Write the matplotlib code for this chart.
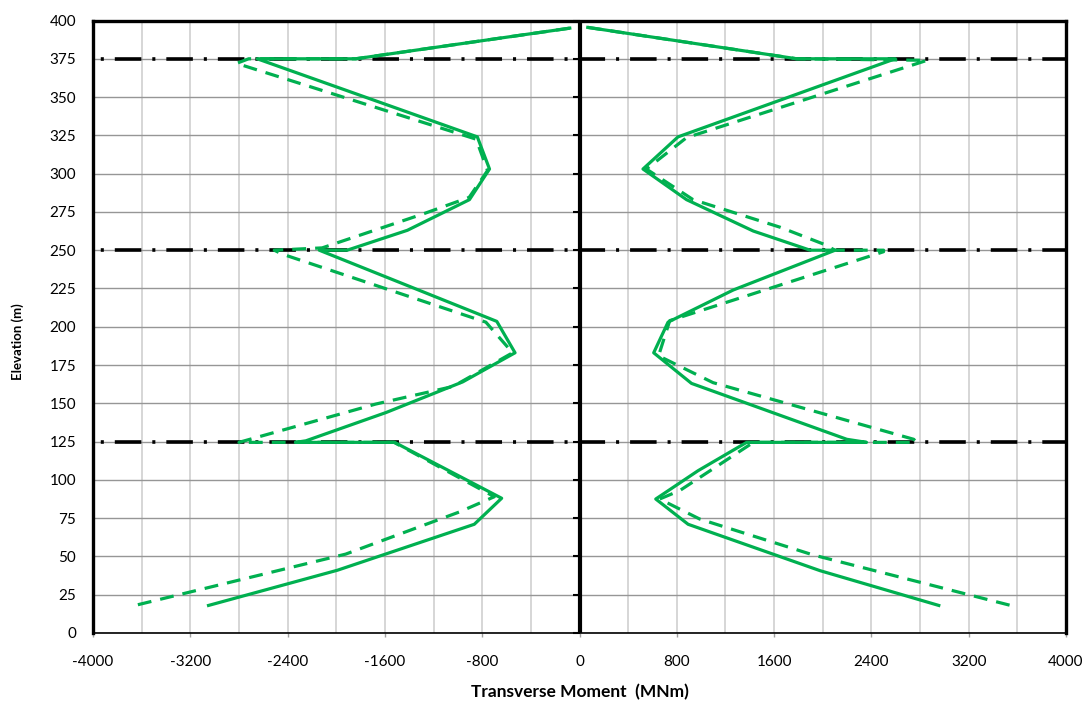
import numpy as np
import matplotlib
matplotlib.use('Agg')
from matplotlib import pyplot as plt
from matplotlib.ticker import MultipleLocator

# floor levels (black dash-dot lines)
levels = [375, 250, 125]

# left side, solid
elev_ls = [395, 375, 375, 324, 303, 283, 263, 250, 250, 203.5, 183, 164, 144, 125.5, 124.5, 124.5, 88, 71, 41, 18]
mom_ls = [-80, -1840, -2650, -840, -740, -905, -1415, -1910, -2140, -680, -530, -960, -1590, -2250, -2336, -1520, -640, -865, -1990, -3050]

# left side, dashed
elev_ld = [395, 375, 375, 372, 322.5, 302, 284.5, 273.5, 251.5, 250, 247.5, 203, 183, 161, 149.5, 124.5, 124.5, 89, 79, 51.5, 18]
mom_ld = [-80, -1840, -2720, -2820, -850, -756, -907, -1292, -2116, -2510, -2446, -770, -550, -1040, -1676, -2800, -1525, -700, -989, -1923, -3655]

# right side, solid
elev_rs = [395.5, 375, 375, 324, 303, 283, 262.5, 250, 250, 224, 203, 183, 163, 126.5, 124.5, 124.5, 106, 87.5, 71, 40.7, 18]
mom_rs = [68, 1786, 2596, 810, 522, 880, 1429, 1896, 2102, 1264, 728, 610, 921, 2198, 2360, 1374, 975, 627, 893, 1978, 2954]

# right side, dashed
elev_rd = [395.5, 375, 374, 323.5, 303, 283, 265, 254, 250, 250, 249, 204, 181, 163.5, 126.5, 124.5, 124.5, 93, 87.5, 82, 74.4, 51, 18]
mom_rd = [68, 1786, 2858, 880, 550, 934, 1649, 2006, 2100, 2500, 2500, 742, 650, 1098, 2748, 2770, 1430, 824, 659, 797, 989, 1920, 3545]

x_ticks = np.arange(-4000, 4001, 800)
y_ticks = np.arange(0, 401, 25)

green = '#00B050'
font = 'Lato'

plt.rcParams['font.family'] = [font, 'DejaVu Sans']
plt.rcParams['lines.scale_dashes'] = False

fig = plt.figure(figsize=(10.85, 7.04), dpi=100)
ax = fig.add_axes([93 / 1085, 71 / 704, 973 / 1085, 612.5 / 704])

ax.set_xlim(-4000, 4000)
ax.set_ylim(0, 400)

# grid
ax.xaxis.set_minor_locator(MultipleLocator(400))
ax.set_xticks(x_ticks)
ax.set_yticks(y_ticks)
ax.grid(which='minor', axis='x', color='#cccccc', lw=1.1)
ax.grid(which='major', axis='x', color='#cccccc', lw=1.1)
ax.grid(which='major', axis='y', color='#969696', lw=1.0)
ax.set_axisbelow(True)

# floor levels
ax.hlines(levels, -4000, 4000, colors='black', lw=2.6,
          linestyles=[(21.4, (19.1, 7.9, 2.2, 7.9))], capstyle='butt', zorder=2)

# zero line with its ticks
ax.axvline(0, color='black', lw=3.0, zorder=3)
ax.plot(np.zeros(len(y_ticks)), y_ticks, ls='none', marker=0, ms=5, mew=1.5,
        color='black', zorder=3, clip_on=False)

# moment envelopes
dash = (0, (10, 6.5))
ax.plot(mom_ls, elev_ls, color=green, lw=2.3, zorder=4)
ax.plot(mom_ld, elev_ld, color=green, lw=2.3, ls=dash, zorder=4)
ax.plot(mom_rs, elev_rs, color=green, lw=2.3, zorder=4)
ax.plot(mom_rd, elev_rd, color=green, lw=2.3, ls=dash, zorder=4)

for side in ['left', 'top', 'right']:
    ax.spines[side].set_linewidth(2.4)
ax.spines['bottom'].set_linewidth(1.2)

ax.tick_params(axis='y', length=0, pad=12, labelsize=11)
ax.tick_params(axis='x', which='major', length=3, width=1, color='#a0a0a0',
               pad=13, labelsize=11)
ax.tick_params(axis='x', which='minor', length=0)
ax.set_xticklabels([str(v) for v in x_ticks])

ax.set_xlabel('Transverse Moment  (MNm)', fontsize=12.5, fontweight='bold', va='center')
ax.xaxis.set_label_coords(0.5, -0.0965)
ax.set_ylabel('Elevation (m)', fontsize=9.5, fontweight='bold', va='center')
ax.yaxis.set_label_coords(-0.077, 0.475)

plt.savefig('out.png', dpi=100)
